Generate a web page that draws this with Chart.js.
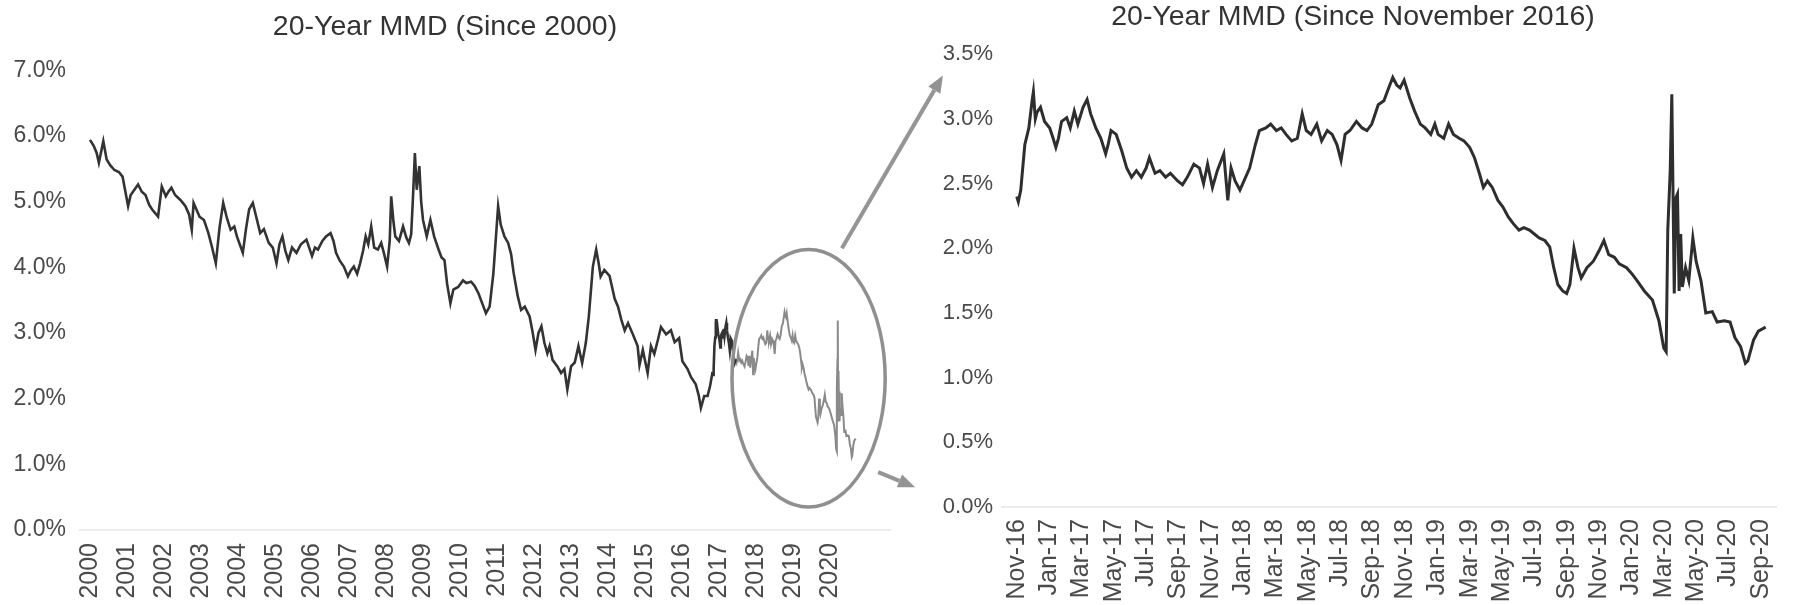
<!DOCTYPE html>
<html>
<head>
<meta charset="utf-8">
<script src="https://cdn.jsdelivr.net/npm/chart.js@4.4.0/dist/chart.umd.min.js"></script>
<style>
  html, body { margin: 0; padding: 0; background: #fff; }
  #wrap { position: relative; width: 1803px; height: 605px; overflow: hidden; }
  #left { position: absolute; left: 0; top: 0; z-index: 2; }
  #right { position: absolute; left: 905px; top: 0; z-index: 1; }
</style>
</head>
<body>
<div id="wrap">
  <canvas id="right" width="898" height="605"></canvas>
  <canvas id="left" width="960" height="605"></canvas>
</div>
<script>
// 20-year MMD since 2000 (year, %), up to Nov 2016
const leftYears = [2000.00,2000.10,2000.18,2000.24,2000.36,2000.45,2000.55,2000.66,2000.78,2000.88,2000.98,2001.03,2001.10,2001.20,2001.30,2001.40,2001.50,2001.60,2001.68,2001.84,2001.94,2002.05,2002.12,2002.20,2002.30,2002.45,2002.58,2002.68,2002.75,2002.80,2002.90,2002.96,2003.08,2003.20,2003.30,2003.40,2003.50,2003.60,2003.70,2003.80,2003.90,2003.97,2004.13,2004.22,2004.30,2004.40,2004.50,2004.60,2004.70,2004.83,2004.94,2005.04,2005.12,2005.20,2005.28,2005.36,2005.46,2005.58,2005.70,2005.85,2006.00,2006.08,2006.16,2006.28,2006.38,2006.50,2006.58,2006.65,2006.75,2006.86,2006.97,2007.05,2007.13,2007.22,2007.30,2007.38,2007.45,2007.52,2007.60,2007.68,2007.78,2007.87,2007.95,2008.03,2008.10,2008.14,2008.20,2008.25,2008.35,2008.46,2008.55,2008.62,2008.68,2008.73,2008.78,2008.83,2008.90,2008.95,2009.00,2009.10,2009.20,2009.30,2009.42,2009.50,2009.58,2009.65,2009.74,2009.82,2009.95,2010.08,2010.17,2010.30,2010.40,2010.50,2010.60,2010.70,2010.80,2010.90,2011.03,2011.10,2011.20,2011.30,2011.38,2011.45,2011.56,2011.65,2011.75,2011.88,2011.95,2012.04,2012.12,2012.20,2012.28,2012.36,2012.42,2012.50,2012.63,2012.73,2012.82,2012.90,2013.00,2013.10,2013.20,2013.30,2013.40,2013.48,2013.59,2013.68,2013.75,2013.80,2013.90,2014.04,2014.18,2014.27,2014.36,2014.45,2014.54,2014.67,2014.80,2014.85,2014.94,2015.07,2015.16,2015.25,2015.35,2015.43,2015.57,2015.70,2015.80,2015.92,2016.01,2016.15,2016.24,2016.37,2016.45,2016.51,2016.60,2016.69,2016.76,2016.82];
const leftValues = [5.94,5.85,5.74,5.59,5.92,5.64,5.55,5.48,5.45,5.38,5.08,4.93,5.10,5.18,5.26,5.15,5.10,4.95,4.88,4.77,5.23,5.08,5.15,5.21,5.10,5.02,4.93,4.80,4.57,4.98,4.85,4.77,4.72,4.52,4.30,4.06,4.60,4.98,4.75,4.57,4.62,4.47,4.22,4.60,4.88,4.98,4.75,4.52,4.58,4.37,4.30,4.06,4.35,4.47,4.25,4.11,4.30,4.22,4.35,4.42,4.17,4.30,4.27,4.40,4.47,4.52,4.40,4.22,4.10,4.01,3.86,3.95,4.01,3.90,4.06,4.25,4.47,4.35,4.62,4.30,4.27,4.37,4.20,4.01,4.40,5.08,4.70,4.47,4.40,4.62,4.45,4.37,4.50,5.08,5.74,5.18,5.54,5.00,4.72,4.47,4.72,4.47,4.27,4.15,4.11,3.75,3.45,3.66,3.70,3.80,3.76,3.78,3.71,3.60,3.45,3.30,3.40,3.90,4.93,4.65,4.47,4.37,4.20,3.91,3.56,3.35,3.40,3.25,3.05,2.74,3.00,3.10,2.85,2.69,2.80,2.59,2.49,2.39,2.45,2.14,2.49,2.55,2.80,2.54,2.85,3.25,4.01,4.27,4.05,3.86,3.96,3.87,3.52,3.40,3.20,3.04,3.15,2.98,2.80,2.51,2.74,2.39,2.80,2.68,2.90,3.09,2.98,3.04,2.86,2.92,2.57,2.45,2.33,2.22,2.05,1.86,2.04,2.04,2.20,2.39];
const leftTickLabels = ['2000','2001','2002','2003','2004','2005','2006','2007','2008','2009','2010','2011','2012','2013','2014','2015','2016','2017','2018','2019','2020'];

// 20-year MMD since November 2016 (months after 1 Nov 2016, %)
const rightMonths = [0.0,0.1,0.25,0.5,0.75,0.95,1.03,1.15,1.25,1.47,1.72,2.04,2.25,2.42,2.58,2.77,3.09,3.31,3.56,3.78,4.10,4.35,4.57,4.89,5.2,5.5,5.65,5.83,6.15,6.5,6.8,7.1,7.4,7.7,8.0,8.2,8.55,8.85,9.2,9.5,9.95,10.25,10.55,10.95,11.3,11.55,11.8,12.1,12.4,12.8,13.05,13.25,13.5,13.8,14.05,14.4,14.75,15.0,15.4,15.7,16.05,16.35,16.65,17.0,17.35,17.65,17.9,18.2,18.55,18.85,19.2,19.5,19.8,20.05,20.3,20.6,21.0,21.35,21.65,21.95,22.35,22.7,23.0,23.25,23.5,23.7,23.95,24.3,24.6,24.95,25.25,25.6,25.85,26.05,26.4,26.7,27.0,27.35,27.65,28.0,28.3,28.6,28.85,29.1,29.4,29.75,30.05,30.4,30.7,31.05,31.35,31.7,32.0,32.3,32.65,32.95,33.2,33.45,33.75,34.0,34.2,34.45,34.7,34.9,35.25,35.65,36.0,36.3,36.6,36.95,37.25,37.7,38.05,38.35,38.8,39.3,39.7,40.0,40.15,40.25,40.4,40.5,40.58,40.65,40.75,40.85,40.95,41.05,41.15,41.35,41.55,41.8,42.0,42.3,42.6,43.0,43.3,43.75,44.1,44.4,44.75,45.05,45.2,45.55,45.85,46.3];
const rightValues = [2.40,2.36,2.45,2.80,2.93,3.14,3.21,3.00,3.05,3.09,2.98,2.93,2.85,2.78,2.85,2.98,3.01,2.93,3.06,2.96,3.09,3.15,3.04,2.93,2.85,2.73,2.80,2.91,2.88,2.75,2.62,2.55,2.60,2.55,2.62,2.70,2.58,2.60,2.55,2.58,2.52,2.49,2.55,2.65,2.62,2.50,2.65,2.47,2.60,2.73,2.37,2.62,2.52,2.45,2.52,2.62,2.80,2.91,2.93,2.96,2.91,2.93,2.88,2.83,2.85,3.04,2.91,2.88,2.96,2.83,2.91,2.88,2.80,2.68,2.88,2.91,2.98,2.93,2.91,2.96,3.11,3.14,3.24,3.32,3.26,3.24,3.30,3.16,3.06,2.96,2.93,2.88,2.96,2.88,2.85,2.96,2.88,2.85,2.83,2.78,2.70,2.58,2.47,2.52,2.47,2.37,2.32,2.24,2.19,2.14,2.16,2.14,2.11,2.08,2.06,2.01,1.85,1.72,1.67,1.65,1.72,2.00,1.85,1.77,1.85,1.90,1.98,2.06,1.95,1.93,1.88,1.85,1.80,1.75,1.67,1.60,1.44,1.23,1.20,2.14,2.60,3.19,2.37,1.65,2.39,2.42,1.67,2.11,1.70,1.85,1.75,2.08,1.90,1.75,1.50,1.51,1.43,1.44,1.43,1.31,1.24,1.11,1.13,1.29,1.36,1.39];
const rightTickLabels = ['Nov-16','Jan-17','Mar-17','May-17','Jul-17','Sep-17','Nov-17','Jan-18','Mar-18','May-18','Jul-18','Sep-18','Nov-18','Jan-19','Mar-19','May-19','Jul-19','Sep-19','Nov-19','Jan-20','Mar-20','May-20','Jul-20','Sep-20'];

// zoom ellipse on the left chart (year, %) and radii
const zoomCenter = [2019.42, 2.31];
const zoomRadius = [2.07, 1.96];
const zoomArrows = [[[2020.32, 4.29], [2023.05, 6.92]], [[2021.3, 0.88], [2022.3, 0.65]]];
const grayFrom = 2017.45;

const FONT = "'Liberation Sans', Arial, sans-serif";
const TXT = '#4a4a4a';

// combined left series: early history + the recent series in year units
const allLeft = leftYears.map((x, i) => ({x: x, y: leftValues[i]}))
  .concat(rightMonths.map((m, i) => ({x: 2016 + 10 / 12 + m / 12, y: rightValues[i]})));
const darkPart = allLeft.filter(p => p.x <= grayFrom + 0.001);
const grayPart = allLeft.filter(p => p.x >= grayFrom - 0.001);

const zoomMarks = {
  id: 'zoomMarks',
  afterDatasetsDraw(chart) {
    const {ctx} = chart;
    const x = chart.scales.x, y = chart.scales.y;
    ctx.save();
    ctx.strokeStyle = '#8f8f8f';
    ctx.fillStyle = '#939393';
    ctx.lineWidth = 3.5;
    const cx = x.getPixelForValue(zoomCenter[0]);
    const cy = y.getPixelForValue(zoomCenter[1]);
    const rx = x.getPixelForValue(zoomCenter[0] + zoomRadius[0]) - cx;
    const ry = cy - y.getPixelForValue(zoomCenter[1] + zoomRadius[1]);
    ctx.beginPath();
    ctx.ellipse(cx, cy, rx, ry, 0, 0, Math.PI * 2);
    ctx.stroke();
    ctx.lineWidth = 4;
    ctx.strokeStyle = '#959595';
    zoomArrows.forEach(a => {
      const x0 = x.getPixelForValue(a[0][0]), y0 = y.getPixelForValue(a[0][1]);
      const x1 = x.getPixelForValue(a[1][0]), y1 = y.getPixelForValue(a[1][1]);
      const ang = Math.atan2(y1 - y0, x1 - x0);
      const head = 17, half = 7;
      const bx = x1 - head * Math.cos(ang), by = y1 - head * Math.sin(ang);
      ctx.beginPath();
      ctx.moveTo(x0, y0);
      ctx.lineTo(bx, by);
      ctx.stroke();
      ctx.beginPath();
      ctx.moveTo(x1, y1);
      ctx.lineTo(bx + half * Math.sin(ang), by - half * Math.cos(ang));
      ctx.lineTo(bx - half * Math.sin(ang), by + half * Math.cos(ang));
      ctx.closePath();
      ctx.fill();
    });
    ctx.restore();
  }
};

function titleOpts(text, top, bottom) {
  return {
    display: true, text: text, color: '#333',
    font: {family: FONT, size: 28.5, weight: 'normal'},
    padding: {top: top, bottom: bottom}
  };
}

new Chart(document.getElementById('left'), {
  type: 'line',
  data: {
    datasets: [
      {data: darkPart, borderColor: '#333', borderWidth: 2.6, pointRadius: 0, tension: 0},
      {data: grayPart, borderColor: '#8a8a8a', borderWidth: 2, pointRadius: 0, tension: 0}
    ]
  },
  options: {
    responsive: false, animation: false,
    layout: {padding: {left: 0, right: 70, top: 0, bottom: 0}},
    plugins: {legend: {display: false}, tooltip: {enabled: false},
      title: titleOpts('20-Year MMD (Since 2000)', 10, 26)},
    scales: {
      x: {
        type: 'linear', min: 1999.73, max: 2021.62,
        grid: {display: false, drawTicks: false},
        border: {color: '#ececec', width: 2},
        afterBuildTicks: s => { s.ticks = leftTickLabels.map(t => ({value: Number(t)})); },
        afterFit: s => { s.height = 75; },
        ticks: {
          autoSkip: false, minRotation: 90, maxRotation: 90, padding: 13,
          color: TXT, font: {family: FONT, size: 25},
          callback: (v, i) => leftTickLabels[i]
        }
      },
      y: {
        min: 0, max: 7,
        grid: {display: false, drawTicks: false},
        border: {display: false},
        afterFit: s => { s.width = 80; },
        ticks: {stepSize: 1, padding: 14, color: TXT, font: {family: FONT, size: 23},
          callback: v => v.toFixed(1) + '%'}
      }
    }
  },
  plugins: [zoomMarks]
});

new Chart(document.getElementById('right'), {
  type: 'line',
  data: {
    datasets: [{
      data: rightMonths.map((m, i) => ({x: m, y: rightValues[i]})),
      borderColor: '#2e2e2e', borderWidth: 3, pointRadius: 0, tension: 0
    }]
  },
  options: {
    responsive: false, animation: false,
    layout: {padding: {left: 8, right: 10, top: 0, bottom: 0}},
    plugins: {legend: {display: false}, tooltip: {enabled: false},
      title: titleOpts('20-Year MMD (Since November 2016)', 0, 20)},
    scales: {
      x: {
        type: 'linear', min: -0.91, max: 47.0,
        grid: {display: false, drawTicks: false},
        border: {color: '#ececec', width: 2},
        afterBuildTicks: s => { s.ticks = rightTickLabels.map((t, i) => ({value: i * 2})); },
        afterFit: s => { s.height = 98; },
        ticks: {
          autoSkip: false, minRotation: 90, maxRotation: 90, padding: 12,
          color: TXT, font: {family: FONT, size: 25},
          callback: (v, i) => rightTickLabels[i]
        }
      },
      y: {
        min: 0, max: 3.5,
        grid: {display: false, drawTicks: false},
        border: {display: false},
        afterFit: s => { s.width = 89; },
        ticks: {stepSize: 0.5, padding: 9, color: TXT, font: {family: FONT, size: 22},
          callback: v => v.toFixed(1) + '%'}
      }
    }
  }
});
</script>
</body>
</html>
